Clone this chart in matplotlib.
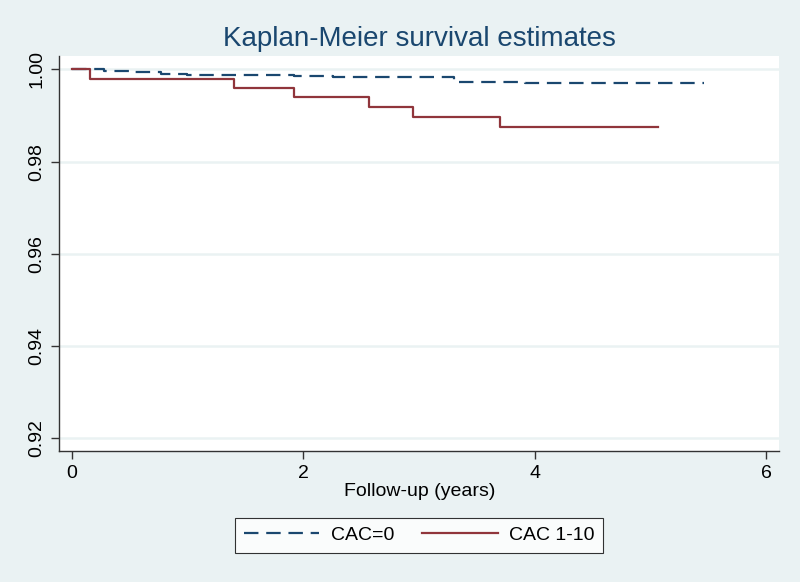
import matplotlib
matplotlib.use("Agg")
import matplotlib.pyplot as plt

# Kaplan-Meier steps
t_cac0 = [0, 0.28, 0.51, 0.77, 1.00, 1.92, 2.26, 3.30, 3.92, 5.46]
s_cac0 = [1.0, 0.9997, 0.9994, 0.9990, 0.9988, 0.9985, 0.9983, 0.9972, 0.9970, 0.9970]

t_cac110 = [0, 0.155, 1.40, 1.92, 2.57, 2.95, 3.70, 5.07]
s_cac110 = [1.0, 0.9979, 0.9960, 0.9939, 0.9918, 0.9897, 0.9875, 0.9875]

xticks = [0, 2, 4, 6]
yticks = [0.92, 0.94, 0.96, 0.98, 1.00]
ylabels = ["0.92", "0.94", "0.96", "0.98", "1.00"]

plt.rcParams['font.family'] = ['Liberation Sans Narrow', 'Liberation Sans', 'DejaVu Sans']

bg = '#eaf2f3'
azul = '#1a476f'
rojo = '#90353b'

fig = plt.figure(figsize=(8, 5.82), dpi=100, facecolor=bg)
ax = fig.add_axes([0.0741, 0.2251, 0.8999, 0.6787])
ax.set_facecolor('white')

ax.step(t_cac0, s_cac0, where='post', color=azul, lw=1.6,
        linestyle=(0, (6.5, 3.5)), label='CAC=0')
ax.step(t_cac110, s_cac110, where='post', color=rojo, lw=1.6,
        label='CAC 1-10')

ax.set_xlim(-0.107, 6.113)
ax.set_ylim(0.91729, 1.00288)
ax.set_xticks(xticks)
ax.set_yticks(yticks)
ax.set_yticklabels(ylabels, rotation=90, va='center')
ax.tick_params(axis='both', labelsize=14, length=6, width=1, color='#333333', pad=4)
ax.grid(axis='y', color=bg, lw=1.8)
ax.set_axisbelow(True)
for s in ['top', 'right']:
    ax.spines[s].set_visible(False)
for s in ['left', 'bottom']:
    ax.spines[s].set_color('#333333')
    ax.spines[s].set_linewidth(1)

ax.set_xlabel('Follow-up (years)', fontsize=14, labelpad=1)
ax.set_title('Kaplan-Meier survival estimates', fontsize=20, color=azul, pad=7)

leg = fig.legend(loc='center', bbox_to_anchor=(0.524, 0.080), ncol=2,
                 fontsize=14, frameon=True, fancybox=False, edgecolor='black',
                 handlelength=3.9, handletextpad=0.6, columnspacing=1.4,
                 borderpad=0.45)
leg.get_frame().set_linewidth(0.8)

fig.savefig('out.png', dpi=100, facecolor=bg)
